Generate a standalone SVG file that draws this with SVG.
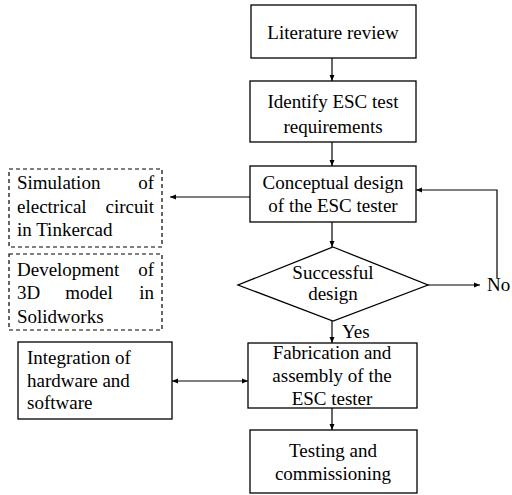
<svg xmlns="http://www.w3.org/2000/svg" width="512" height="495" viewBox="0 0 512 495" font-family="'Liberation Serif', 'Times New Roman', Times, serif" font-size="19">
<defs>
<marker id="ah" markerWidth="8" markerHeight="8" refX="6" refY="4" orient="auto" markerUnits="userSpaceOnUse">
<path d="M0,1.5 L6,4 L0,6.5 Z" fill="#000"/>
</marker>
<marker id="ahs" markerWidth="8" markerHeight="8" refX="0" refY="4" orient="auto" markerUnits="userSpaceOnUse">
<path d="M6,1.5 L0,4 L6,6.5 Z" fill="#000"/>
</marker>
</defs>
<style>
.box{fill:#fff;stroke:#000;stroke-width:1.3}
.dash{fill:#fff;stroke:#000;stroke-width:1.2;stroke-dasharray:4,3}
.c{text-anchor:middle}
.e{text-anchor:end}
.ln{stroke:#000;stroke-width:1.2;fill:none}
</style>
<rect width="512" height="495" fill="#fff"/>
<g id="connectors">
<line class="ln" x1="332" y1="58" x2="332" y2="81" marker-end="url(#ah)"/>
<line class="ln" x1="332" y1="142" x2="332" y2="166" marker-end="url(#ah)"/>
<line class="ln" x1="332" y1="222" x2="332" y2="247" marker-end="url(#ah)"/>
<line class="ln" x1="250" y1="197" x2="170" y2="197" marker-end="url(#ah)"/>
<line class="ln" x1="428" y1="285" x2="480" y2="285" marker-end="url(#ah)"/>
<polyline class="ln" points="497,278 497,190 416,190" marker-end="url(#ah)"/>
<line class="ln" x1="332" y1="321" x2="332" y2="343" marker-end="url(#ah)"/>
<line class="ln" x1="332" y1="408" x2="332" y2="430" marker-end="url(#ah)"/>
<line class="ln" x1="172" y1="381" x2="248" y2="381" marker-start="url(#ahs)" marker-end="url(#ah)"/>
<text x="342" y="338">Yes</text>
<text x="487" y="291">No</text>
</g>
<g id="literature">
<rect class="box" x="251" y="5" width="165" height="53"/>
<text class="c" x="333" y="39">Literature review</text>
</g>
<g id="identify">
<rect class="box" x="250" y="81" width="166" height="61"/>
<text class="c" x="333" y="108">Identify ESC test</text>
<text class="c" x="333" y="133">requirements</text>
</g>
<g id="conceptual">
<rect class="box" x="250" y="166" width="166" height="56"/>
<text class="c" x="333" y="189">Conceptual design</text>
<text class="c" x="333" y="212">of the ESC tester</text>
</g>
<g id="decision">
<polygon class="box" points="333,247 428,285 333,321 238,285"/>
<text class="c" x="333" y="279">Successful</text>
<text class="c" x="333" y="300">design</text>
</g>
<g id="simulation">
<rect class="dash" x="9" y="169" width="153" height="78"/>
<text x="17" y="189">Simulation</text><text class="e" x="154" y="189">of</text>
<text x="17" y="213">electrical</text><text class="e" x="154" y="213">circuit</text>
<text x="17" y="236">in Tinkercad</text>
</g>
<g id="development">
<rect class="dash" x="9" y="254" width="153" height="76"/>
<text x="17" y="276">Development</text><text class="e" x="154" y="276">of</text>
<text x="17" y="299">3D</text><text class="c" x="89" y="299">model</text><text class="e" x="154" y="299">in</text>
<text x="17" y="323">Solidworks</text>
</g>
<g id="integration">
<rect class="box" x="18" y="342" width="154" height="77"/>
<text x="27" y="364">Integration of</text>
<text x="27" y="387">hardware and</text>
<text x="27" y="409">software</text>
</g>
<g id="fabrication">
<rect class="box" x="248" y="343" width="169" height="65"/>
<text class="c" x="332" y="359">Fabrication and</text>
<text class="c" x="332" y="382">assembly of the</text>
<text class="c" x="332" y="405">ESC tester</text>
</g>
<g id="testing">
<rect class="box" x="250" y="430" width="167" height="63"/>
<text class="c" x="333" y="457">Testing and</text>
<text class="c" x="333" y="480">commissioning</text>
</g>
</svg>
